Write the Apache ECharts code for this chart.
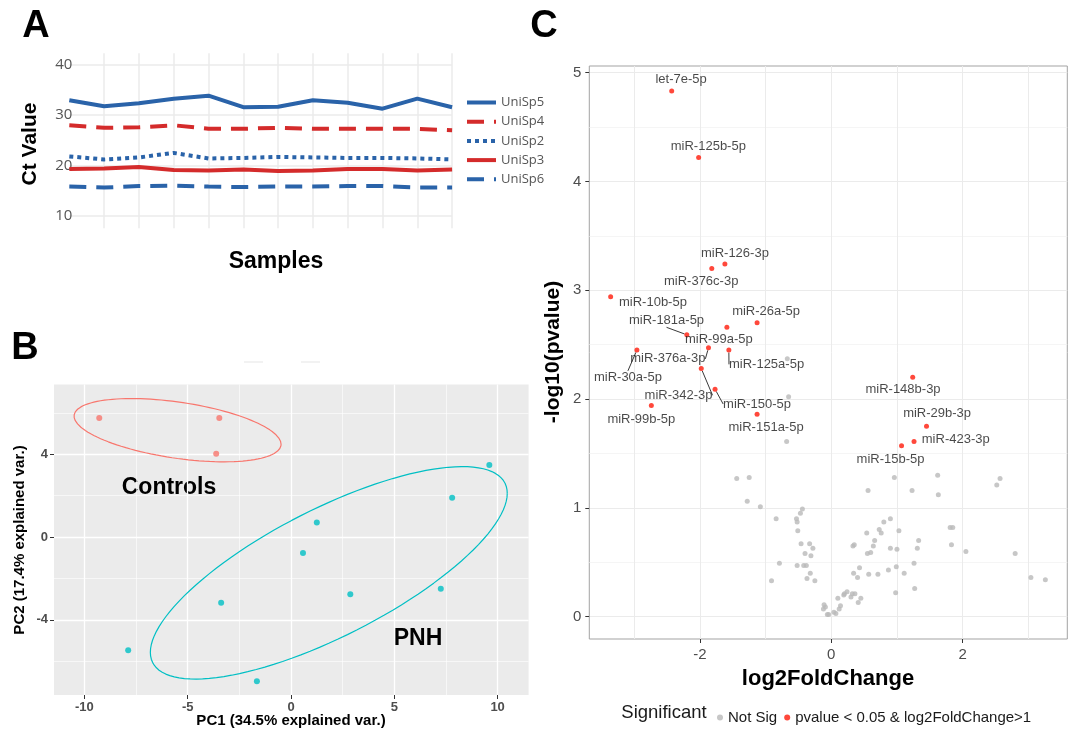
<!DOCTYPE html>
<html><head><meta charset="utf-8">
<script src="https://cdn.jsdelivr.net/npm/echarts@6/dist/echarts.min.js"></script>
<style>html,body{margin:0;padding:0;background:#fff}#c{width:1077px;height:733px}</style>
</head><body><div id="c"></div>
<script>
// ---------------- Panel A data ----------------
const samples = ['1','2','3','4','5','6','7','8','9','10','11','12'];
const spikeNames = ['UniSp5','UniSp4','UniSp2','UniSp3','UniSp6'];
const uniSp5 = [33.0, 31.8, 32.4, 33.3, 33.9, 31.6, 31.7, 33.0, 32.5, 31.3, 33.3, 31.6];
const uniSp4 = [28.0, 27.5, 27.6, 28.0, 27.3, 27.3, 27.5, 27.3, 27.3, 27.3, 27.3, 27.0];
const uniSp2 = [21.8, 21.2, 21.6, 22.5, 21.4, 21.5, 21.7, 21.6, 21.5, 21.5, 21.4, 21.2];
const uniSp3 = [19.3, 19.4, 19.7, 19.1, 19.0, 19.2, 18.9, 19.0, 19.3, 19.3, 19.0, 19.2];
const uniSp6 = [15.8, 15.6, 15.9, 16.0, 15.8, 15.7, 15.8, 15.8, 15.9, 15.9, 15.6, 15.6];
const ctRange = [10, 40];

// ---------------- Panel B data ----------------
const controlsPC1 = [-9.28, -3.47, -3.62];
const controlsPC2 = [5.76, 5.76, 4.03];
const pnhPC1 = [9.6, 7.8, 1.25, 0.58, 2.87, 7.25, -3.38, -7.88, -1.65];
const pnhPC2 = [3.48, 1.90, 0.71, -0.77, -2.77, -2.5, -3.18, -5.48, -6.98];
const controlsEllipse = {cx: -5.49, cy: 5.17, sxx: 25.1, syy: 2.34, sxy: -3.41};
const pnhEllipse = {cx: 1.83, cy: -1.73, sxx: 74.6, syy: 26.4, sxy: 33.2};

// ---------------- Panel C data ----------------
const sigNames = ['let-7e-5p','miR-125b-5p','miR-126-3p','miR-376c-3p','miR-10b-5p','miR-26a-5p','miR-99a-5p','miR-181a-5p','miR-376a-3p','miR-30a-5p','miR-125a-5p','miR-342-3p','miR-150-5p','miR-99b-5p','miR-151a-5p','miR-148b-3p','miR-29b-3p','miR-423-3p','miR-15b-5p'];
const sigLog2FC = [-2.43, -2.02, -1.62, -1.82, -3.36, -1.13, -1.59, -2.20, -1.87, -2.96, -1.56, -1.98, -1.77, -2.74, -1.13, 1.24, 1.45, 1.26, 1.07];
const sigNegLog10P = [4.83, 4.22, 3.24, 3.20, 2.94, 2.70, 2.66, 2.59, 2.47, 2.45, 2.45, 2.28, 2.09, 1.94, 1.86, 2.20, 1.75, 1.61, 1.57];
const nsLog2FC = [-0.67,-0.65,-0.68,-1.44,-1.25,-1.28,-1.08,-0.84,-0.79,-0.91,-0.53,-0.52,-0.47,-0.44,-0.51,-0.46,-0.33,-0.28,-0.40,-0.31,-0.52,-0.42,-0.38,-0.32,-0.37,-0.25,-0.11,-0.09,-0.12,-0.06,-0.04,0.04,0.07,0.12,0.14,0.10,0.19,0.20,0.24,0.30,0.32,0.36,0.41,0.45,0.34,0.40,0.43,0.33,0.35,0.55,0.60,0.64,0.66,0.54,0.57,0.56,0.71,0.73,0.76,0.80,0.87,0.90,0.90,0.96,0.98,0.99,1.00,1.03,1.11,1.23,1.26,1.27,1.31,1.33,1.62,1.63,1.81,1.85,1.83,2.05,2.52,2.57,2.80,3.04,3.26];
const nsNegLog10P = [2.37,2.02,1.61,1.27,1.28,1.06,1.01,0.90,0.49,0.33,0.90,0.87,0.95,0.99,0.79,0.67,0.67,0.63,0.58,0.56,0.47,0.47,0.47,0.40,0.35,0.33,0.11,0.09,0.07,0.02,0.02,0.04,0.03,0.07,0.10,0.17,0.20,0.21,0.23,0.18,0.21,0.21,0.13,0.17,0.40,0.36,0.45,0.65,0.66,0.58,0.59,0.65,0.70,0.77,0.39,1.16,0.39,0.80,0.77,0.87,0.43,0.90,0.63,1.28,0.22,0.46,0.62,0.79,0.40,1.16,0.49,0.26,0.63,0.70,1.30,1.12,0.82,0.82,0.66,0.60,1.21,1.27,0.58,0.36,0.34];
const sigLegendName = 'pvalue < 0.05 & log2FoldChange>1';
const nsLegendName = 'Not Sig';

// ---------------- layout (not data) ----------------
const A_RECT = {left: 69.3, top: 65, width: 382.8, height: 150.7};
const B_RECT = {left: 54, top: 384.5, width: 474.6, height: 310.5};
const B_XR = [-11.47, 11.5], B_YR = [-7.64, 7.38];
const C_RECT = {left: 589.3, top: 66, width: 478, height: 573};
const C_XR = [-3.685, 3.594], C_YR = [-0.205, 5.06];
// label offsets (px) for significant labels, and whether a leader line is drawn
const sigLabelOffset = [[9.4,-11.3],[9.7,-11.3],[10,-11],[-10.6,13.4],[42.3,5.4],[9,-11],[-8,12],[-20.3,-14],[-40.7,11],[-9,27.3],[37.7,14.3],[-22.7,26.7],[42,14.7],[-10,13.6],[9,13.4],[-9.7,12.3],[10.6,-12.4],[41.7,-2.4],[-11,13.7]];
const sigLeader = [0,0,0,0,0,0,0,1,1,1,1,1,1,0,0,0,0,0,0];

function xPx(r, ext, v){ return r.left + (v - ext[0]) / (ext[1] - ext[0]) * r.width; }
function yPx(r, ext, v){ return r.top + (ext[1] - v) / (ext[1] - ext[0]) * r.height; }
function ellipsePoints(e, n){
  const r11 = Math.sqrt(e.sxx), r12 = e.sxy / r11, r22 = Math.sqrt(e.syy - r12 * r12);
  const pts = [];
  for (let i = 0; i <= n; i++){ const t = 2 * Math.PI * i / n; pts.push([e.cx + r11 * Math.cos(t), e.cy + r12 * Math.cos(t) + r22 * Math.sin(t)]); }
  return pts;
}
const zip = (a, b) => a.map((v, i) => [v, b[i]]);
const hid = (gi, min, max) => ({type: 'value', gridIndex: gi, min: min, max: max, show: false});

const ARIAL = '"Liberation Sans", Arial, sans-serif';
const OPEN = '"Open Sans", "Liberation Sans", sans-serif';
const WHITE = '#ffffff';

const grids = [
  {left: A_RECT.left, top: A_RECT.top, width: A_RECT.width, height: A_RECT.height},
  {left: xPx(A_RECT, [1, 12], 2), top: 53.3, width: xPx(A_RECT, [1, 12], 12) - xPx(A_RECT, [1, 12], 2), height: 175},
  {left: B_RECT.left, top: B_RECT.top, width: B_RECT.width, height: B_RECT.height, show: true, backgroundColor: '#ebebeb', borderWidth: 0, z: -1},
  {left: xPx(B_RECT, B_XR, -10), top: B_RECT.top, width: xPx(B_RECT, B_XR, 10) - xPx(B_RECT, B_XR, -10), height: B_RECT.height},
  {left: B_RECT.left, top: yPx(B_RECT, B_YR, 8), width: B_RECT.width, height: yPx(B_RECT, B_YR, -8) - yPx(B_RECT, B_YR, 8)},
  {left: B_RECT.left, top: yPx(B_RECT, B_YR, 4), width: B_RECT.width, height: yPx(B_RECT, B_YR, -4) - yPx(B_RECT, B_YR, 4)},
  {left: C_RECT.left, top: C_RECT.top, width: C_RECT.width, height: C_RECT.height, show: true, borderColor: '#a3a3a3', borderWidth: 1, backgroundColor: 'transparent'},
  {left: xPx(C_RECT, C_XR, -3), top: C_RECT.top, width: xPx(C_RECT, C_XR, 3) - xPx(C_RECT, C_XR, -3), height: C_RECT.height},
  {left: xPx(C_RECT, C_XR, -2), top: C_RECT.top, width: xPx(C_RECT, C_XR, 2) - xPx(C_RECT, C_XR, -2), height: C_RECT.height},
  {left: C_RECT.left, top: yPx(C_RECT, C_YR, 5), width: C_RECT.width, height: yPx(C_RECT, C_YR, 0) - yPx(C_RECT, C_YR, 5)}
];

const xAxes = [
  {type: 'category', gridIndex: 0, data: samples, boundaryGap: false, show: false},
  {type: 'value', gridIndex: 1, min: 2, max: 12, interval: 1, z: 1, axisLine: {show: false}, axisTick: {show: false}, axisLabel: {show: false}, splitLine: {show: true, lineStyle: {color: '#ebebeb', width: 1.5}}},
  hid(2, B_XR[0], B_XR[1]),
  {type: 'value', gridIndex: 3, min: -10, max: 10, interval: 5, z: 1, axisLine: {show: false},
    axisTick: {show: true, length: 4, lineStyle: {color: '#333'}},
    axisLabel: {show: true, margin: 6, color: '#4d4d4d', fontWeight: 'bold', fontSize: 13, fontFamily: ARIAL},
    splitLine: {show: true, lineStyle: {color: WHITE, width: 1.3}},
    minorTick: {show: false, splitNumber: 2}, minorSplitLine: {show: true, lineStyle: {color: WHITE, width: 0.6}}},
  hid(4, 0, 1), hid(5, 0, 1), hid(6, C_XR[0], C_XR[1]),
  {type: 'value', gridIndex: 7, min: -3, max: 3, interval: 1, z: 1, axisLine: {show: false}, axisTick: {show: false}, axisLabel: {show: false}, splitLine: {show: true, lineStyle: {color: '#ebebeb', width: 1}}},
  {type: 'value', gridIndex: 8, min: -2, max: 2, interval: 2, z: 1, axisLine: {show: false}, splitLine: {show: false},
    axisTick: {show: true, length: 4, lineStyle: {color: '#333'}},
    axisLabel: {show: true, margin: 8, color: '#4d4d4d', fontSize: 15, fontFamily: ARIAL}},
  hid(9, 0, 1)
];
const yAxes = [
  {type: 'value', gridIndex: 0, min: ctRange[0], max: ctRange[1], interval: 10, axisLine: {show: false}, axisTick: {show: false},
    axisLabel: {show: true, margin: -3, color: '#555', fontSize: 15, fontFamily: OPEN},
    splitLine: {show: true, lineStyle: {color: '#ebebeb', width: 1.5}}},
  hid(1, 0, 1), hid(2, B_YR[0], B_YR[1]), hid(3, 0, 1),
  {type: 'value', gridIndex: 4, min: -8, max: 8, interval: 4, z: 1, axisLine: {show: false}, axisTick: {show: false}, axisLabel: {show: false},
    splitLine: {show: true, lineStyle: {color: WHITE, width: 1.3}},
    minorTick: {show: false, splitNumber: 2}, minorSplitLine: {show: true, lineStyle: {color: WHITE, width: 0.6}}},
  {type: 'value', gridIndex: 5, min: -4, max: 4, interval: 4, z: 1, axisLine: {show: false}, splitLine: {show: false},
    axisTick: {show: true, length: 4, lineStyle: {color: '#333'}},
    axisLabel: {show: true, margin: 6, color: '#4d4d4d', fontWeight: 'bold', fontSize: 13, fontFamily: ARIAL}},
  hid(6, C_YR[0], C_YR[1]), hid(7, 0, 1), hid(8, 0, 1),
  {type: 'value', gridIndex: 9, min: 0, max: 5, interval: 1, z: 1, axisLine: {show: false},
    axisTick: {show: true, length: 4, lineStyle: {color: '#333'}},
    axisLabel: {show: true, margin: 8, color: '#4d4d4d', fontSize: 15, fontFamily: ARIAL},
    splitLine: {show: true, lineStyle: {color: '#ebebeb', width: 1}},
    minorTick: {show: false, splitNumber: 2}, minorSplitLine: {show: true, lineStyle: {color: '#f2f2f2', width: 0.8}}}
];

const BLUE = '#2a63a9', RED = '#d42b2b';
const aStyles = [
  {color: BLUE, type: 'solid'},
  {color: RED, type: [17, 10]},
  {color: BLUE, type: [4, 4]},
  {color: RED, type: 'solid'},
  {color: BLUE, type: [17, 10]}
];
const aData = [uniSp5, uniSp4, uniSp2, uniSp3, uniSp6];
const seriesA = spikeNames.map((n, i) => ({
  name: n, type: 'line', xAxisIndex: 0, yAxisIndex: 0, data: aData[i], symbol: 'none', silent: true,
  color: aStyles[i].color,
  lineStyle: {color: aStyles[i].color, width: 4, type: aStyles[i].type, cap: 'butt'}
}));

const SALMON = '#F8766D', TEAL = '#00BFC4';
const seriesB = [
  {type: 'line', xAxisIndex: 2, yAxisIndex: 2, data: ellipsePoints(controlsEllipse, 120), symbol: 'none', silent: true, lineStyle: {color: SALMON, width: 1.2}, z: 3},
  {type: 'line', xAxisIndex: 2, yAxisIndex: 2, data: ellipsePoints(pnhEllipse, 120), symbol: 'none', silent: true, lineStyle: {color: TEAL, width: 1.2}, z: 3},
  {name: 'Controls', type: 'scatter', xAxisIndex: 2, yAxisIndex: 2, data: zip(controlsPC1, controlsPC2), symbolSize: 6, itemStyle: {color: SALMON}, z: 4},
  {name: 'PNH', type: 'scatter', xAxisIndex: 2, yAxisIndex: 2, data: zip(pnhPC1, pnhPC2), symbolSize: 6, itemStyle: {color: TEAL}, z: 4}
];

const seriesC = [
  {name: nsLegendName, type: 'scatter', xAxisIndex: 6, yAxisIndex: 6, data: zip(nsLog2FC, nsNegLog10P), symbolSize: 5, itemStyle: {color: '#b9b9b9'}, z: 3},
  {name: sigLegendName, type: 'scatter', xAxisIndex: 6, yAxisIndex: 6, symbolSize: 5, itemStyle: {color: '#ff1a0a'}, z: 4,
    data: sigNames.map((n, i) => ({name: n, value: [sigLog2FC[i], sigNegLog10P[i]], labelLine: {show: !!sigLeader[i]}})),
    label: {show: true, position: 'inside', formatter: '{b}', color: '#1a1a1a', fontSize: 13, fontFamily: ARIAL},
    labelLine: {show: false, lineStyle: {color: '#222', width: 0.9}},
    labelLayout: function (p) { const o = sigLabelOffset[p.dataIndex]; return {dx: o[0], dy: o[1]}; }
  }
];

function txt(x, y, s, font, opts, fill) {
  return Object.assign({type: 'text', x: x, y: y, silent: true,
    style: {text: s, font: font, fill: fill || '#000', textAlign: 'center', textVerticalAlign: 'middle'}}, opts || {});
}
const graphics = [
  txt(36, 27, 'A', 'bold 38px ' + ARIAL),
  txt(25, 349, 'B', 'bold 38px ' + ARIAL),
  txt(544, 27, 'C', 'bold 38px ' + ARIAL),
  txt(30, 144, 'Ct Value', 'bold 21px ' + ARIAL, {rotation: Math.PI / 2}),
  txt(276, 262, 'Samples', 'bold 23px ' + ARIAL),
  txt(291, 721, 'PC1 (34.5% explained var.)', 'bold 15px ' + ARIAL),
  txt(20, 540, 'PC2 (17.4% explained var.)', 'bold 15px ' + ARIAL, {rotation: Math.PI / 2}),
  txt(169, 488, 'Controls', 'bold 23px ' + ARIAL),
  txt(418, 639, 'PNH', 'bold 23px ' + ARIAL),
  txt(553, 352, '-log10(pvalue)', 'bold 21px ' + ARIAL, {rotation: Math.PI / 2}),
  txt(828, 679, 'log2FoldChange', 'bold 22px ' + ARIAL),
  txt(664, 713, 'Significant', '18.5px ' + ARIAL, null, '#1a1a1a'),
  {type: 'line', silent: true, shape: {x1: 244, y1: 362, x2: 263, y2: 362}, style: {stroke: '#eeeeee', lineWidth: 1.5}},
  {type: 'line', silent: true, shape: {x1: 301, y1: 362, x2: 320, y2: 362}, style: {stroke: '#eeeeee', lineWidth: 1.5}}
];

const chart = echarts.init(document.getElementById('c'), null, {renderer: 'canvas'});
chart.setOption({
  animation: false,
  backgroundColor: '#fff',
  grid: grids,
  xAxis: xAxes,
  yAxis: yAxes,
  legend: [
    {data: spikeNames, orient: 'vertical', left: 460, top: 91, itemWidth: 29, itemHeight: 14, itemGap: 6.2,
      itemStyle: {opacity: 0}, lineStyle: {width: 4, cap: 'butt'},
      textStyle: {color: '#555', fontSize: 13, fontFamily: OPEN}, selectedMode: false},
    {data: [nsLegendName, sigLegendName], orient: 'horizontal', left: 712, top: 705, itemWidth: 6, itemHeight: 6, itemGap: 7, icon: 'circle',
      textStyle: {color: '#1a1a1a', fontSize: 15, fontFamily: ARIAL}, selectedMode: false}
  ],
  series: seriesA.concat(seriesB, seriesC),
  graphic: graphics
});
</script></body></html>
